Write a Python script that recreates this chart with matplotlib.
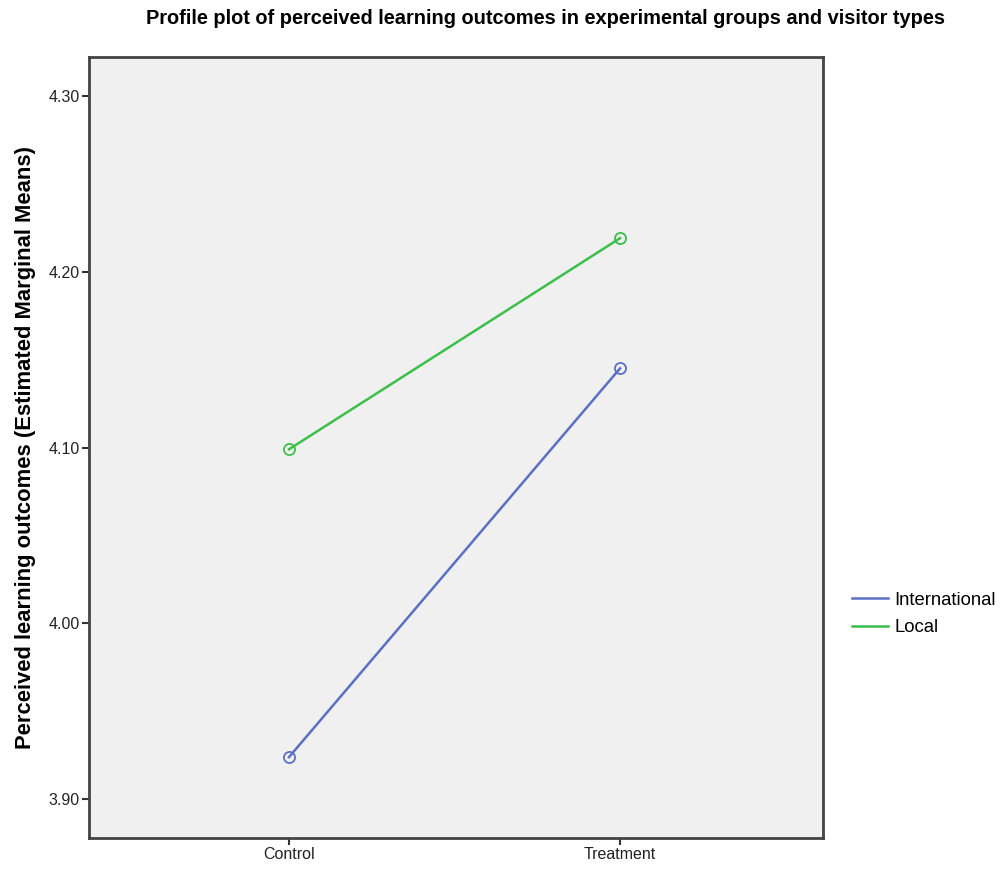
import matplotlib
matplotlib.use("Agg")
import matplotlib.pyplot as plt

groups = ["Control", "Treatment"]
international = [3.924, 4.145]
local = [4.099, 4.219]
series_names = ["International", "Local"]
y_ticks = [3.90, 4.00, 4.10, 4.20, 4.30]

blue = "#5b70c4"
green = "#3cbf4a"
font = ["Liberation Sans", "DejaVu Sans"]

fig = plt.figure(figsize=(10, 8.73), dpi=100)
ax = fig.add_axes([0.089, 0.040, 0.734, 0.8947])
ax.set_facecolor("#f0f0f0")

x = list(range(len(groups)))
ax.plot(x, international, color=blue, lw=1.8, marker="o", ms=8,
        mfc="none", mec=blue, mew=1.3, label=series_names[0])
ax.plot(x, local, color=green, lw=1.8, marker="o", ms=8,
        mfc="none", mec=green, mew=1.3, label=series_names[1])

ax.set_xlim(-0.604, 1.613)
ax.set_ylim(3.878, 4.322)
ax.set_xticks(x)
ax.set_xticklabels(groups, family=font, fontsize=11.5, color="#222222")
ax.set_yticks(y_ticks)
ax.set_yticklabels([f"{v:.2f}" for v in y_ticks], family=font,
                   fontsize=11.5, color="#222222")
ax.tick_params(direction="out", length=5, width=1.5, color="#333333", pad=1.5)
ax.tick_params(top=False, right=False)
for s in ax.spines.values():
    s.set_color("#444444")
    s.set_linewidth(2)

ax.set_ylabel("Perceived learning outcomes (Estimated Marginal Means)",
              family=font, fontweight="bold", fontsize=15.8, labelpad=9)

fig.text(0.545, 0.979, "Profile plot of perceived learning outcomes in experimental groups and visitor types",
         ha="center", va="center", family=font, fontweight="bold",
         fontsize=14.4)

leg = ax.legend(loc="center left", bbox_to_anchor=(1.0395, 0.287),
                frameon=False, prop={"family": font, "size": 13.3},
                borderpad=0, borderaxespad=0,
                handlelength=1.95, handletextpad=0.33, labelspacing=0.55)
for h in leg.get_lines():
    h.set_marker("")

fig.savefig("out.png", dpi=100)
